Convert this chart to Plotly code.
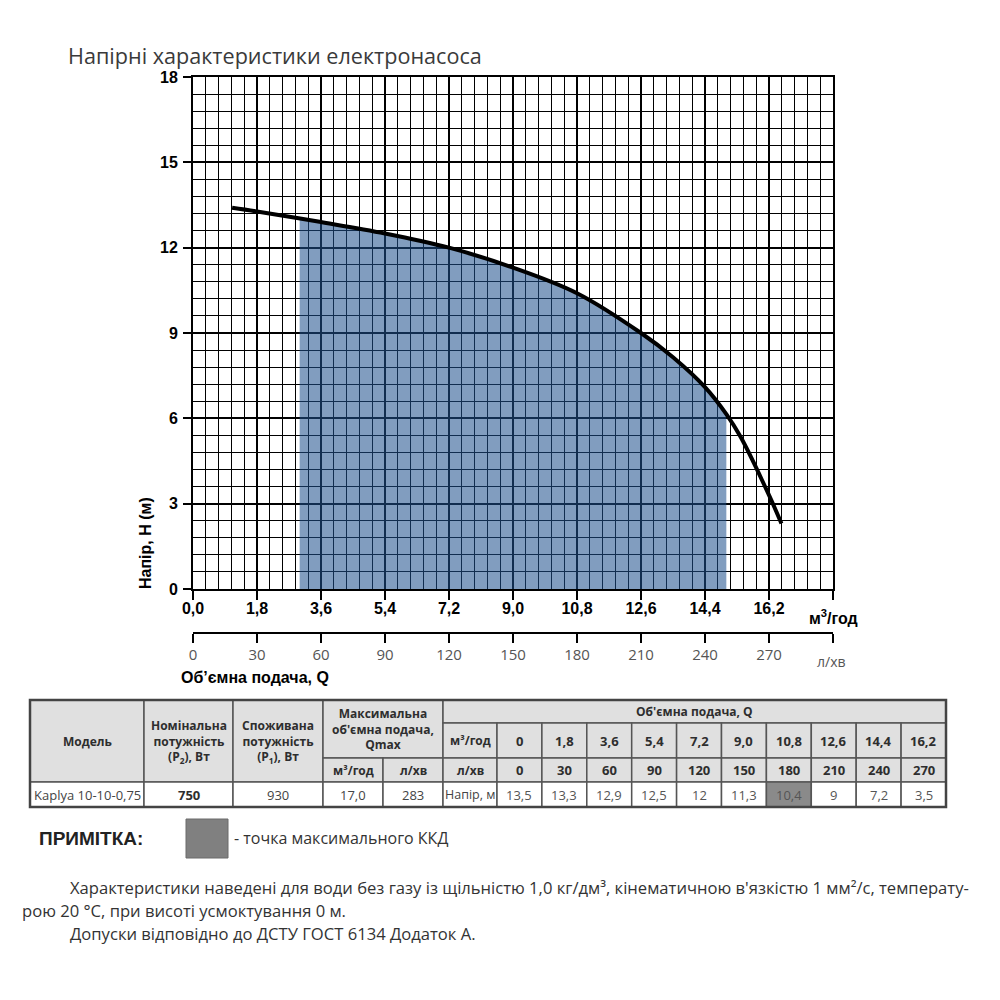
import plotly.graph_objects as go

# ---------------- data ----------------
# pump head curve (m3/h -> m)
q_curve = [1.1, 1.8, 3.6, 5.4, 7.2, 9.0, 10.8, 12.6, 13.5, 14.4, 15.0, 15.4, 16.2, 16.55]
h_curve = [13.4, 13.27, 12.9, 12.5, 12.0, 11.3, 10.4, 9.0, 8.15, 7.1, 6.15, 5.35, 3.3, 2.3]
# recommended working range (shaded)
q_work = [3.0, 3.6, 5.4, 7.2, 9.0, 10.8, 12.6, 13.5, 14.4, 15.0]
h_work = [13.02, 12.9, 12.5, 12.0, 11.3, 10.4, 9.0, 8.15, 7.1, 6.15]

x_ticks_m3h = [0.0, 1.8, 3.6, 5.4, 7.2, 9.0, 10.8, 12.6, 14.4, 16.2, 18.0]
x_labels_m3h = ["0,0", "1,8", "3,6", "5,4", "7,2", "9,0", "10,8", "12,6", "14,4", "16,2", ""]
x_ticks_lmin = [0, 30, 60, 90, 120, 150, 180, 210, 240, 270, 300]
x_labels_lmin = ["0", "30", "60", "90", "120", "150", "180", "210", "240", "270", ""]
y_ticks = [0, 3, 6, 9, 12, 15, 18]
y_labels = ["0", "3", "6", "9", "12", "15", "18"]

# table data
tbl_model = "Kaplya 10-10-0,75"
tbl_p2 = "750"
tbl_p1 = "930"
tbl_qmax_m3h = "17,0"
tbl_qmax_lmin = "283"
tbl_q_m3h = ["0", "1,8", "3,6", "5,4", "7,2", "9,0", "10,8", "12,6", "14,4", "16,2"]
tbl_q_lmin = ["0", "30", "60", "90", "120", "150", "180", "210", "240", "270"]
tbl_head = ["13,5", "13,3", "12,9", "12,5", "12", "11,3", "10,4", "9", "7,2", "3,5"]
best_eff_idx = 6

# ---------------- helpers ----------------
W = H = 1000
def px(x):
    return x / W
def py(y):
    return 1 - y / H

FONT_OS = "Open Sans, Liberation Sans, sans-serif"
FONT_AR = "Liberation Sans, Arial, sans-serif"

fig = go.Figure()

fig.add_trace(go.Scatter(
    x=q_work, y=h_work, mode="lines", line=dict(width=0, shape="spline"),
    fill="tozeroy", fillcolor="rgba(30,80,140,0.56)", hoverinfo="skip", showlegend=False))
fig.add_trace(go.Scatter(
    x=q_curve, y=h_curve, mode="lines", line=dict(color="black", width=4, shape="spline"),
    showlegend=False))
fig.add_trace(go.Scatter(
    x=x_ticks_lmin, y=[None] * len(x_ticks_lmin), xaxis="x2", yaxis="y",
    mode="lines", showlegend=False, hoverinfo="skip"))

x0, x1 = 193, 833
y0, y1 = 589, 77

fig.update_layout(
    width=W, height=H, autosize=False,
    margin=dict(l=0, r=0, t=0, b=0, autoexpand=False),
    paper_bgcolor="white", plot_bgcolor="white",
    showlegend=False,
    font=dict(family=FONT_OS, color="#333"),
    xaxis=dict(
        domain=[px(x0), px(x1)], range=[0, 18],
        tickmode="array", tickvals=x_ticks_m3h, ticktext=x_labels_m3h,
        ticks="outside", ticklen=9, tickwidth=2, tickcolor="black",
        ticklabelstandoff=-5,
        tickfont=dict(family=FONT_AR, size=16, color="black", weight="bold"),
        showline=True, linewidth=2, linecolor="black", mirror=True,
        showgrid=True, gridcolor="black", gridwidth=2, zeroline=False,
        minor=dict(tickmode="linear", tick0=0, dtick=0.36, showgrid=True,
                   gridcolor="black", gridwidth=1, ticks=""),
    ),
    xaxis2=dict(
        overlaying="x", anchor="free", position=py(633), side="bottom",
        range=[0, 300],
        tickmode="array", tickvals=x_ticks_lmin, ticktext=x_labels_lmin,
        ticks="outside", ticklen=9, tickwidth=2, tickcolor="black",
        ticklabelstandoff=-1,
        tickfont=dict(family=FONT_OS, size=15, color="#555"),
        showline=True, linewidth=2, linecolor="black",
        showgrid=False, zeroline=False,
    ),
    yaxis=dict(
        domain=[py(y0), py(y1)], range=[0, 18],
        tickmode="array", tickvals=y_ticks, ticktext=y_labels,
        ticks="outside", ticklen=8, tickwidth=2, tickcolor="black",
        ticklabelstandoff=2,
        tickfont=dict(family=FONT_AR, size=16, color="black", weight="bold"),
        showline=True, linewidth=2, linecolor="black", mirror=True,
        showgrid=True, gridcolor="black", gridwidth=2, zeroline=False,
        minor=dict(tickmode="linear", tick0=0, dtick=0.6, showgrid=True,
                   gridcolor="black", gridwidth=1, ticks=""),
    ),
)

ann = []
def text(x, y, t, size=12, color="#333", family=FONT_OS, xanchor="center", yanchor="middle", angle=0, bold=False):
    ann.append(dict(
        x=px(x), y=py(y), xref="paper", yref="paper", text=t, showarrow=False,
        xanchor=xanchor, yanchor=yanchor, textangle=angle,
        font=dict(size=size, color=color, family=family, weight="bold" if bold else "normal"),
    ))

# chart texts
text(66, 55, "Напірні характеристики електронасоса", size=21.6, color="#3a3a3a", xanchor="left")
text(145, 543, "Напір, Н (м)", size=16, color="black", family=FONT_AR, angle=-90, bold=True)
text(833, 617, "м<sup>3</sup>/год", size=16, color="black", family=FONT_AR, bold=True)
text(831, 661, "л/хв", size=14, color="#555")
text(179, 677, "Об’ємна подача, Q", size=16, color="black", family=FONT_AR, xanchor="left", bold=True)

# ---------------- table ----------------
shapes = []
HDR = "#e0e0e0"
LINE = "#555555"
def rect(xa, ya, xb, yb, fill="white", lw=1.5, lc=LINE):
    shapes.append(dict(type="rect", xref="paper", yref="paper",
                       x0=px(xa), x1=px(xb), y0=py(yb), y1=py(ya),
                       fillcolor=fill, line=dict(color=lc, width=lw), layer="above"))

rows = [700, 723, 758, 782, 807]
c = [30, 144, 233, 323, 383, 443, 497]
vw = (946 - 497) / len(tbl_q_m3h)
vcols = [497 + i * vw for i in range(len(tbl_q_m3h) + 1)]

# header cells
rect(c[0], rows[0], c[1], rows[3], HDR)
rect(c[1], rows[0], c[2], rows[3], HDR)
rect(c[2], rows[0], c[3], rows[3], HDR)
rect(c[3], rows[0], c[5], rows[2], HDR)
rect(c[3], rows[2], c[4], rows[3], HDR)
rect(c[4], rows[2], c[5], rows[3], HDR)
rect(c[5], rows[0], vcols[-1], rows[1], HDR)
rect(c[5], rows[1], c[6], rows[2], HDR)
rect(c[5], rows[2], c[6], rows[3], HDR)
for i in range(len(tbl_q_m3h)):
    rect(vcols[i], rows[1], vcols[i + 1], rows[2], HDR)
    rect(vcols[i], rows[2], vcols[i + 1], rows[3], HDR)
# data row
for a, b in zip(c[:-1], c[1:]):
    rect(a, rows[3], b, rows[4], "white")
for i in range(len(tbl_head)):
    rect(vcols[i], rows[3], vcols[i + 1], rows[4], "#8a8a8a" if i == best_eff_idx else "white")
# outer border
shapes.append(dict(type="rect", xref="paper", yref="paper", x0=px(c[0]), x1=px(vcols[-1]),
                   y0=py(rows[4]), y1=py(rows[0]), line=dict(color="#444", width=2.5), layer="above"))

HC = "#2e2e2e"
def mid(a, b):
    return (a + b) / 2
text(mid(c[0], c[1]), mid(rows[0], rows[3]), "Модель", bold=True, color=HC)
text(mid(c[1], c[2]), mid(rows[0], rows[3]), "Номінальна<br>потужність<br>(P<sub>2</sub>), Вт", bold=True, color=HC)
text(mid(c[2], c[3]), mid(rows[0], rows[3]), "Споживана<br>потужність<br>(P<sub>1</sub>), Вт", bold=True, color=HC)
text(mid(c[3], c[5]), mid(rows[0], rows[2]), "Максимальна<br>об'ємна подача,<br>Qmax", bold=True, color=HC)
text(mid(c[3], c[4]), mid(rows[2], rows[3]), "м³/год", bold=True, color=HC)
text(mid(c[4], c[5]), mid(rows[2], rows[3]), "л/хв", bold=True, color=HC)
text(mid(c[5], vcols[-1]), mid(rows[0], rows[1]), "Об'ємна подача, Q", bold=True, color=HC)
text(mid(c[5], c[6]), mid(rows[1], rows[2]), "м³/год", bold=True, color=HC)
text(mid(c[5], c[6]), mid(rows[2], rows[3]), "л/хв", bold=True, color=HC)
for i in range(len(tbl_q_m3h)):
    text(mid(vcols[i], vcols[i + 1]), mid(rows[1], rows[2]), tbl_q_m3h[i], bold=True, color=HC, size=13)
    text(mid(vcols[i], vcols[i + 1]), mid(rows[2], rows[3]), tbl_q_lmin[i], bold=True, color=HC, size=13)
    text(mid(vcols[i], vcols[i + 1]), mid(rows[3], rows[4]), tbl_head[i], color="#555", size=13)
DC = "#444"
text(mid(c[0], c[1]), mid(rows[3], rows[4]), tbl_model, color=DC, size=13)
text(mid(c[1], c[2]), mid(rows[3], rows[4]), tbl_p2, color=HC, size=13, bold=True)
text(mid(c[2], c[3]), mid(rows[3], rows[4]), tbl_p1, color=DC, size=13)
text(mid(c[3], c[4]), mid(rows[3], rows[4]), tbl_qmax_m3h, color=DC, size=13)
text(mid(c[4], c[5]), mid(rows[3], rows[4]), tbl_qmax_lmin, color=DC, size=13)
text(mid(c[5], c[6]), mid(rows[3], rows[4]), "Напір, м", color=DC, size=12.5)

# note
text(37, 838, "ПРИМІТКА:", size=19, color="#222", family=FONT_AR, xanchor="left", bold=True)
shapes.append(dict(type="rect", xref="paper", yref="paper", x0=px(186), x1=px(228),
                   y0=py(858), y1=py(819), fillcolor="#808080", line=dict(color="#6a6a6a", width=1)))
text(232, 838, "- точка максимального ККД", size=16, color="#333", xanchor="left")

text(68, 887, "Характеристики наведені для води без газу із щільністю 1,0 кг/дм³, кінематичною в'язкістю 1 мм²/с, температу-",
     size=16.6, color="#333", xanchor="left")
text(20, 910, "рою 20 °C, при висоті усмоктування 0 м.", size=16.6, color="#333", xanchor="left")
text(68, 933, "Допуски відповідно до ДСТУ ГОСТ 6134 Додаток А.", size=16.6, color="#333", xanchor="left")

fig.update_layout(annotations=ann, shapes=shapes)
fig.write_html("out.html")
